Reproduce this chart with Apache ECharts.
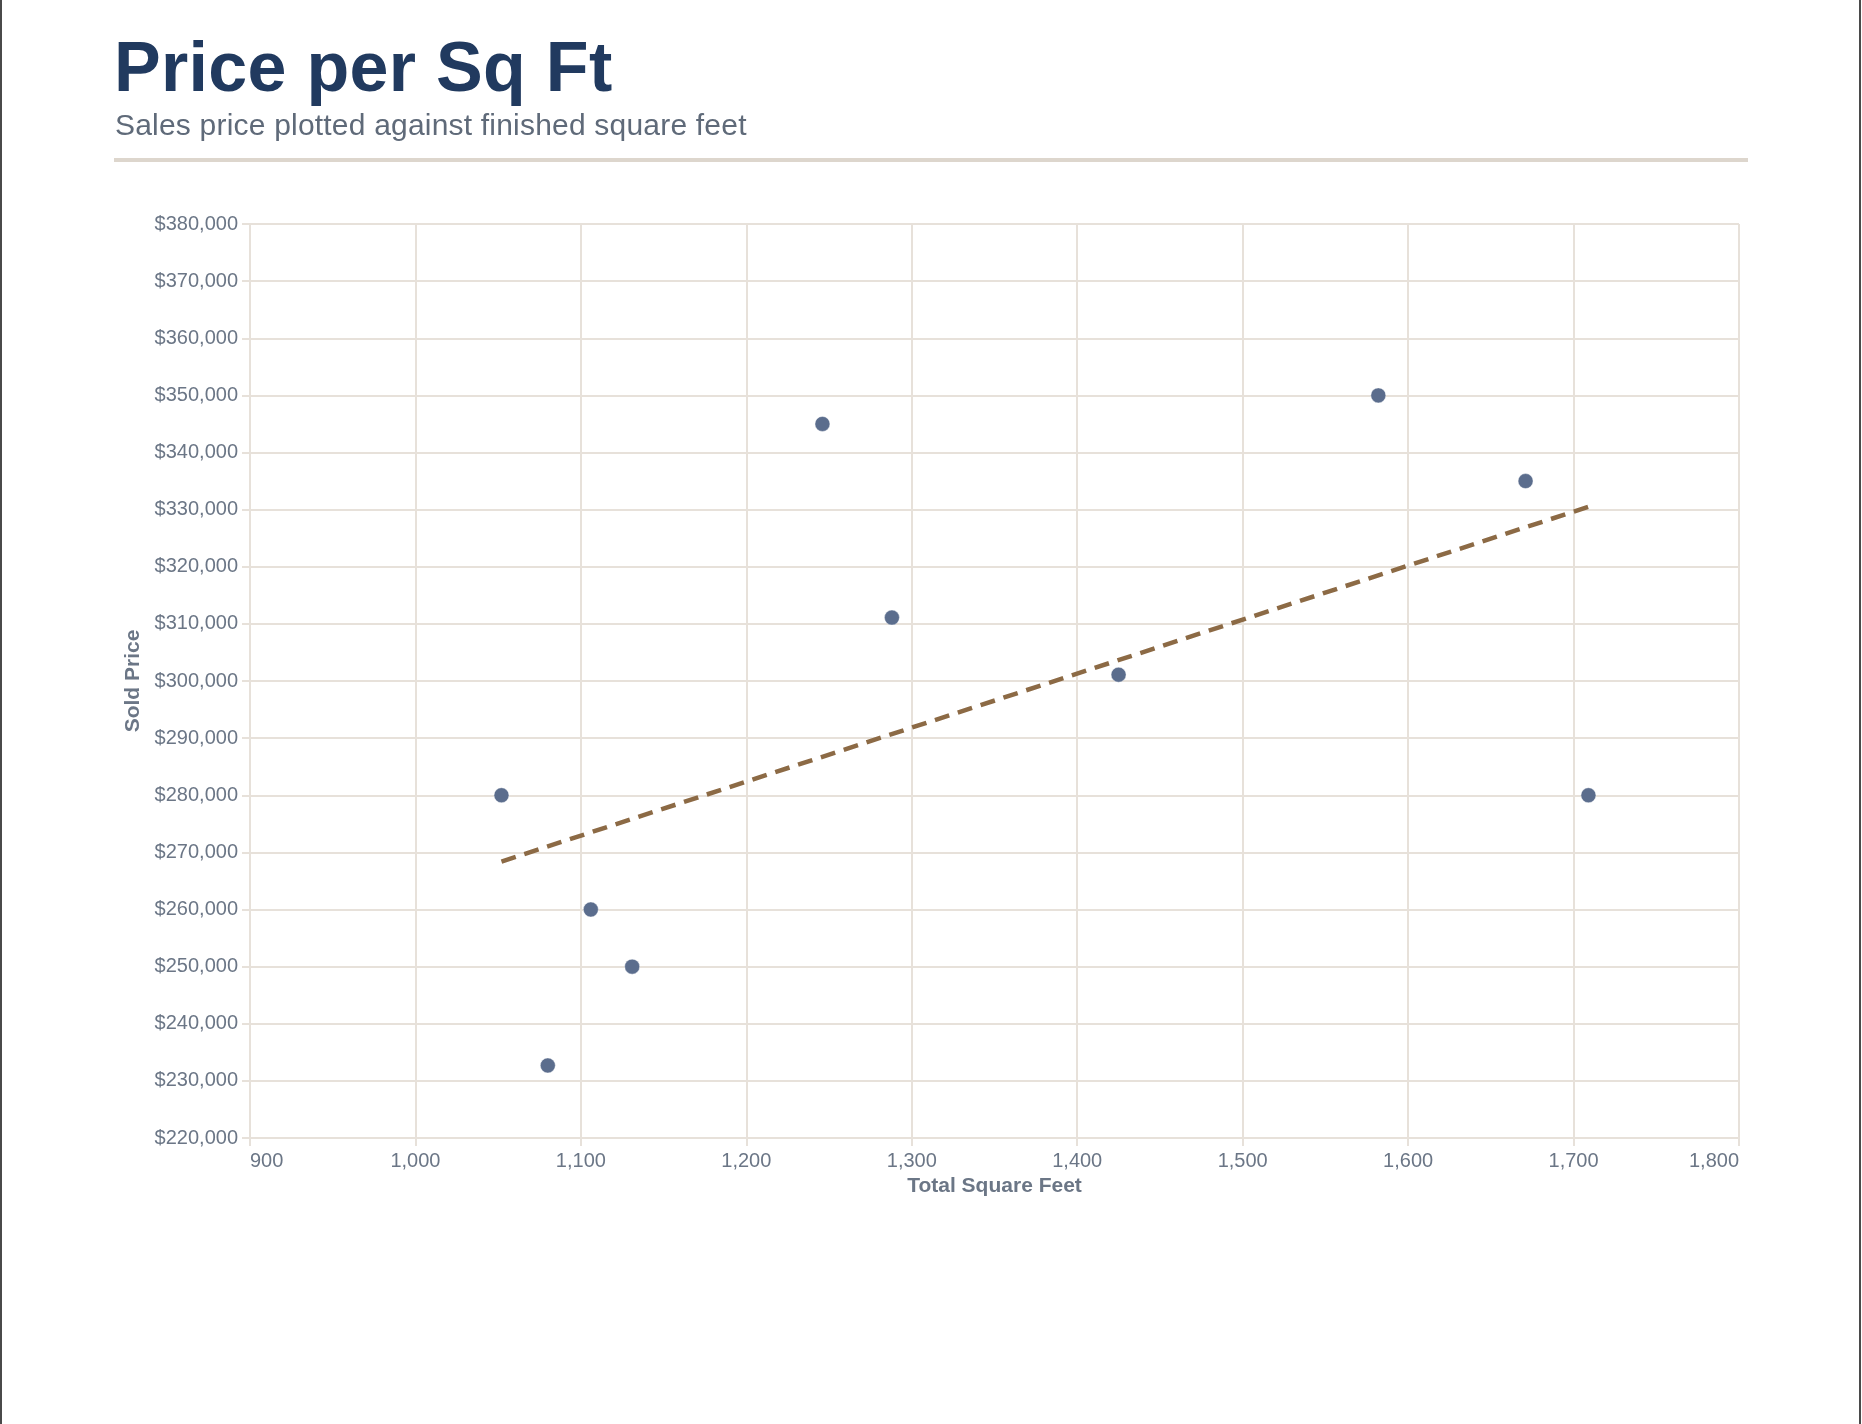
<!DOCTYPE html>
<html>
<head>
<meta charset="utf-8">
<title>Price per Sq Ft</title>
<script src="https://cdn.jsdelivr.net/npm/echarts@6/dist/echarts.min.js"></script>
<style>
  html, body {
    margin: 0;
    padding: 0;
    width: 1862px;
    height: 1424px;
    background: #fff;
    overflow: hidden;
    font-family: 'Liberation Sans', Arial, sans-serif;
  }
  .frame-left, .frame-right {
    position: absolute;
    top: 0;
    width: 2px;
    height: 1424px;
    background: #4a4a4a;
  }
  .frame-left { left: 0; }
  .frame-right { left: 1859px; }
  .title {
    position: absolute;
    left: 114px;
    top: 32px;
    font-size: 70px;
    line-height: 1;
    font-weight: bold;
    color: #213a5f;
    letter-spacing: 0.3px;
    white-space: nowrap;
  }
  .subtitle {
    position: absolute;
    left: 115px;
    top: 110px;
    font-size: 30px;
    line-height: 1;
    color: #5f6a79;
    letter-spacing: 0.2px;
    white-space: nowrap;
  }
  .rule {
    position: absolute;
    left: 114px;
    top: 158px;
    width: 1634px;
    height: 4px;
    background: #ddd6cd;
  }
  #chart {
    position: absolute;
    left: 0;
    top: 0;
    width: 1862px;
    height: 1424px;
  }
</style>
</head>
<body>
<div id="chart"></div>
<div class="title">Price per Sq Ft</div>
<div class="subtitle">Sales price plotted against finished square feet</div>
<div class="rule"></div>
<div class="frame-left"></div>
<div class="frame-right"></div>
<script>
// sales: finished square feet vs sold price
const sqft = [1052, 1080, 1106, 1131, 1246, 1288, 1425, 1582, 1671, 1709];
const soldPrice = [280000, 232700, 260000, 250000, 345000, 311100, 301100, 350000, 335000, 280000];

// trend line end points
const trendSqft = [1052, 1709];
const trendPrice = [268400, 330500];

// axis ranges
const xRange = [900, 1800, 100];
const yRange = [220000, 380000, 10000];

const gridColor = '#e7e1da';
const labelColor = '#6b7686';
const pointColor = '#5b6d8d';
const trendColor = '#8c6a45';

const points = sqft.map((v, i) => [v, soldPrice[i]]);
const trend = trendSqft.map((v, i) => [v, trendPrice[i]]);

const myChart = echarts.init(document.getElementById('chart'));

const option = {
  animation: false,
  grid: {
    left: 250,
    right: 123,
    top: 224,
    bottom: 286,
    containLabel: false
  },
  xAxis: {
    type: 'value',
    min: xRange[0],
    max: xRange[1],
    interval: xRange[2],
    name: 'Total Square Feet',
    nameLocation: 'middle',
    nameGap: 35,
    nameTextStyle: {
      fontFamily: 'Liberation Sans',
      fontSize: 21,
      fontWeight: 'bold',
      color: labelColor
    },
    axisLine: { show: true, lineStyle: { color: gridColor, width: 2 } },
    axisTick: { show: true, length: 8, lineStyle: { color: gridColor, width: 2 } },
    splitLine: { show: true, lineStyle: { color: gridColor, width: 2 } },
    axisLabel: {
      margin: 13,
      fontFamily: 'Liberation Sans',
      fontSize: 20,
      color: labelColor,
      alignMinLabel: 'left',
      alignMaxLabel: 'right',
      formatter: v => v.toLocaleString('en-US')
    }
  },
  yAxis: {
    type: 'value',
    min: yRange[0],
    max: yRange[1],
    interval: yRange[2],
    name: 'Sold Price',
    nameLocation: 'middle',
    nameGap: 104,
    nameRotate: 90,
    nameTextStyle: {
      fontFamily: 'Liberation Sans',
      fontSize: 21,
      fontWeight: 'bold',
      color: labelColor
    },
    axisLine: { show: true, lineStyle: { color: gridColor, width: 2 } },
    axisTick: { show: true, length: 8, lineStyle: { color: gridColor, width: 2 } },
    splitLine: { show: true, lineStyle: { color: gridColor, width: 2 } },
    axisLabel: {
      margin: 12,
      fontFamily: 'Liberation Sans',
      fontSize: 20,
      color: labelColor,
      formatter: v => '$' + v.toLocaleString('en-US')
    }
  },
  series: [
    {
      name: 'Sales',
      type: 'scatter',
      data: points,
      symbol: 'circle',
      symbolSize: 15,
      itemStyle: {
        color: pointColor,
        opacity: 1,
        borderColor: 'rgba(255,255,255,0.4)',
        borderWidth: 1
      },
      z: 3
    },
    {
      name: 'Trend',
      type: 'line',
      data: trend,
      symbol: 'none',
      lineStyle: {
        color: trendColor,
        width: 4.5,
        type: [15, 9]
      },
      z: 2
    }
  ]
};

option && myChart.setOption(option);
</script>
</body>
</html>
